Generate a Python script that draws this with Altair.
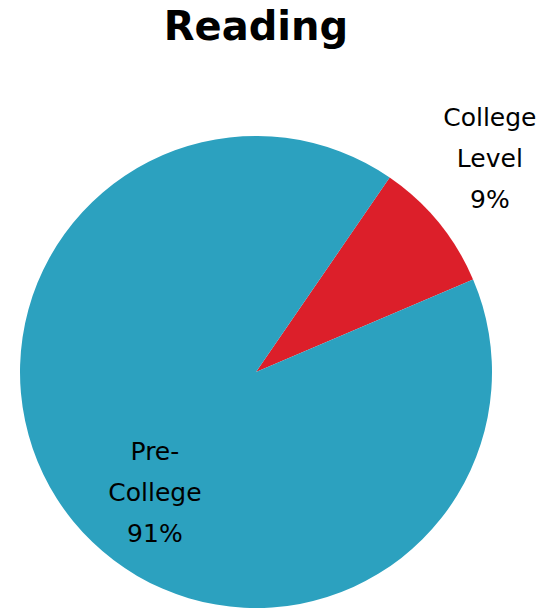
import math
import altair as alt
import pandas as pd

categories = ["College Level", "Pre-College"]
labels = ["College\nLevel", "Pre-\nCollege"]
shares = [9, 91]
colors = ["#DC1F2A", "#2CA1BF"]

df = pd.DataFrame({"category": categories, "label": labels, "share": shares})

start = math.radians(34.5)
theta_scale = alt.Scale(domain=[0, 100], range=[start, start + 2 * math.pi])

base = alt.Chart(df).transform_window(
    cum="sum(share)", sort=[alt.SortField("category")], frame=[None, 0]
).transform_calculate(
    lo="datum.cum - datum.share",
    mid="datum.cum - datum.share / 2",
    text="datum.label + '\\n' + datum.share + '%'",
)

arcs = base.mark_arc(outerRadius=236).encode(
    theta=alt.Theta("lo:Q", scale=theta_scale),
    theta2="cum:Q",
    color=alt.Color("category:N", scale=alt.Scale(domain=categories, range=colors), legend=None),
)

txt_style = dict(font="DejaVu Sans", fontSize=25, lineBreak="\n", lineHeight=41,
                 baseline="middle", align="center", color="black")

college = base.transform_filter(alt.datum.category == "College Level").mark_text(
    radius=345, thetaOffset=-0.14, **txt_style
).encode(theta=alt.Theta("mid:Q", scale=theta_scale), text="text:N")

pre = base.transform_filter(alt.datum.category == "Pre-College").mark_text(
    radius=129, thetaOffset=0.016, **txt_style
).encode(theta=alt.Theta("mid:Q", scale=theta_scale), text="text:N")

chart = alt.layer(arcs, college, pre).properties(
    width=496,
    height=496,
    title=alt.Title("Reading", font="DejaVu Sans", fontSize=40, fontWeight="bold",
                    anchor="middle", frame="group", baseline="alphabetic", offset=26,
                    color="black"),
    autosize="none",
    padding={"top": 116, "left": 0, "right": 40, "bottom": 0},
).configure_view(stroke=None)

chart.save("out.html", embed_options={"renderer": "svg", "actions": False})
